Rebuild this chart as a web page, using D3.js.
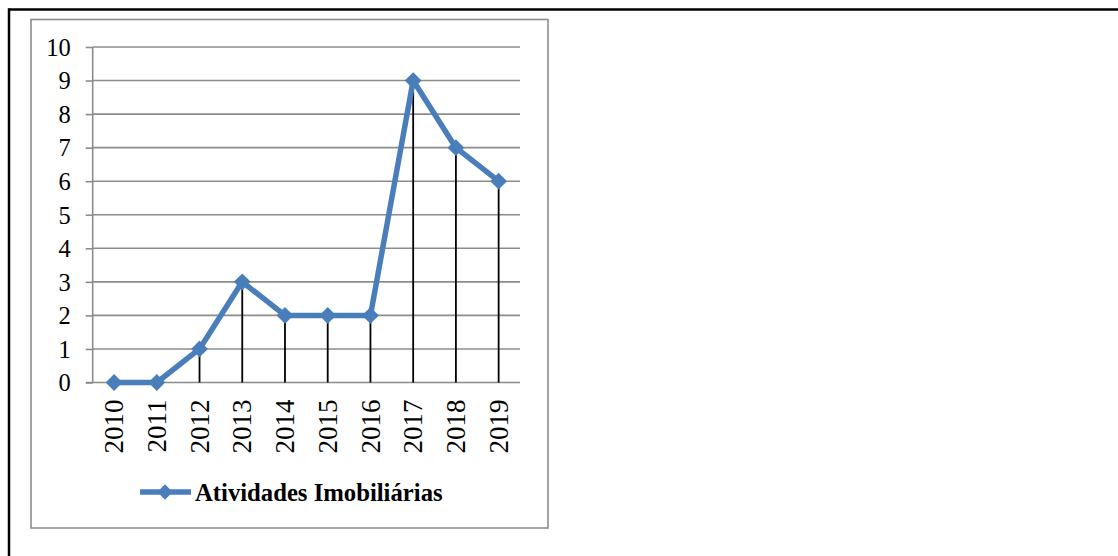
<!DOCTYPE html>
<html>
<head>
<meta charset="utf-8">
<script src="https://cdn.jsdelivr.net/npm/d3@7"></script>
<style>
  html, body { margin: 0; padding: 0; background: #fff; }
  svg { display: block; }
</style>
</head>
<body>
<svg id="chart" width="1118" height="556"></svg>
<script>
const years = ["2010","2011","2012","2013","2014","2015","2016","2017","2018","2019"];
const values = [0, 0, 1, 3, 2, 2, 2, 9, 7, 6];
const yTicks = [0,1,2,3,4,5,6,7,8,9,10];
const seriesName = "Atividades Imobiliárias";

const svg = d3.select("#chart");
const blue = "#4A7EBB";
const grid = "#8c8c8c";
const font = "'Liberation Serif','Times New Roman',serif";

// outer page frame (top + left)
svg.append("line").attr("x1", 9).attr("x2", 1118).attr("y1", 9.5).attr("y2", 9.5)
  .attr("stroke", "#000").attr("stroke-width", 2.5);
svg.append("line").attr("x1", 9).attr("x2", 9).attr("y1", 8.3).attr("y2", 556)
  .attr("stroke", "#000").attr("stroke-width", 2.5);

// chart box
svg.append("rect").attr("x", 31).attr("y", 19.5).attr("width", 517).attr("height", 508.5)
  .attr("fill", "none").attr("stroke", grid).attr("stroke-width", 1.6);

const x = d3.scaleBand().domain(years).range([92.7, 520]);
const y = d3.scaleLinear().domain([0, 10]).range([382.5, 47]);

// gridlines
svg.append("g").selectAll("line").data(yTicks.filter(d => d > 0)).join("line")
  .attr("x1", 92.7).attr("x2", 520)
  .attr("y1", d => y(d)).attr("y2", d => y(d))
  .attr("stroke", grid).attr("stroke-width", 1.6);

// y axis
const yAxis = svg.append("g").attr("transform", "translate(92.7,0)")
  .call(d3.axisLeft(y).tickValues(yTicks).tickSize(7).tickPadding(15).tickFormat(d3.format("d")));
yAxis.select(".domain").attr("stroke", grid).attr("stroke-width", 1.6).attr("d", `M0,${y(10)}V${y(0)}`);
yAxis.selectAll(".tick line").attr("stroke", grid).attr("stroke-width", 1.6);
yAxis.selectAll(".tick text").attr("font-family", font).attr("font-size", 24.5).attr("fill", "#000")
  .attr("dy", "0.34em");

// x axis
const xAxis = svg.append("g").attr("transform", `translate(0,${y(0)})`)
  .call(d3.axisBottom(x).tickSize(0).tickPadding(0));
xAxis.select(".domain").attr("stroke", grid).attr("stroke-width", 1.6).attr("d", `M86,0H520`);
xAxis.selectAll(".tick text")
  .attr("font-family", font).attr("font-size", 27).attr("fill", "#000")
  .attr("text-anchor", "end")
  .attr("transform", "rotate(-90)")
  .attr("x", -17).attr("y", 0).attr("dy", "0.34em");

// drop lines
const cx = d => x(d) + x.bandwidth() / 2;
svg.append("g").selectAll("line").data(years.map((yr, i) => ({yr, v: values[i]})).filter(d => d.v > 0)).join("line")
  .attr("x1", d => cx(d.yr)).attr("x2", d => cx(d.yr))
  .attr("y1", d => y(d.v)).attr("y2", y(0))
  .attr("stroke", "#000").attr("stroke-width", 1.8);

// series line
const data = years.map((yr, i) => ({yr, v: values[i]}));
svg.append("path").datum(data)
  .attr("fill", "none").attr("stroke", blue).attr("stroke-width", 5.5).attr("stroke-linejoin", "round")
  .attr("d", d3.line().x(d => cx(d.yr)).y(d => y(d.v)));

const diamond = d3.symbol().type(d3.symbolDiamond2).size(180);
svg.append("g").selectAll("path").data(data).join("path")
  .attr("transform", d => `translate(${cx(d.yr)},${y(d.v)})`)
  .attr("d", diamond).attr("fill", blue);

// legend
const lg = svg.append("g");
lg.append("line").attr("x1", 140).attr("x2", 191).attr("y1", 492).attr("y2", 492)
  .attr("stroke", blue).attr("stroke-width", 5.5);
lg.append("path").attr("transform", "translate(165,492)")
  .attr("d", d3.symbol().type(d3.symbolDiamond2).size(150)).attr("fill", blue);
lg.append("text").attr("x", 195).attr("y", 500.5)
  .attr("font-family", font).attr("font-size", 24.7).attr("font-weight", "bold").attr("fill", "#000")
  .text(seriesName);
</script>
</body>
</html>
